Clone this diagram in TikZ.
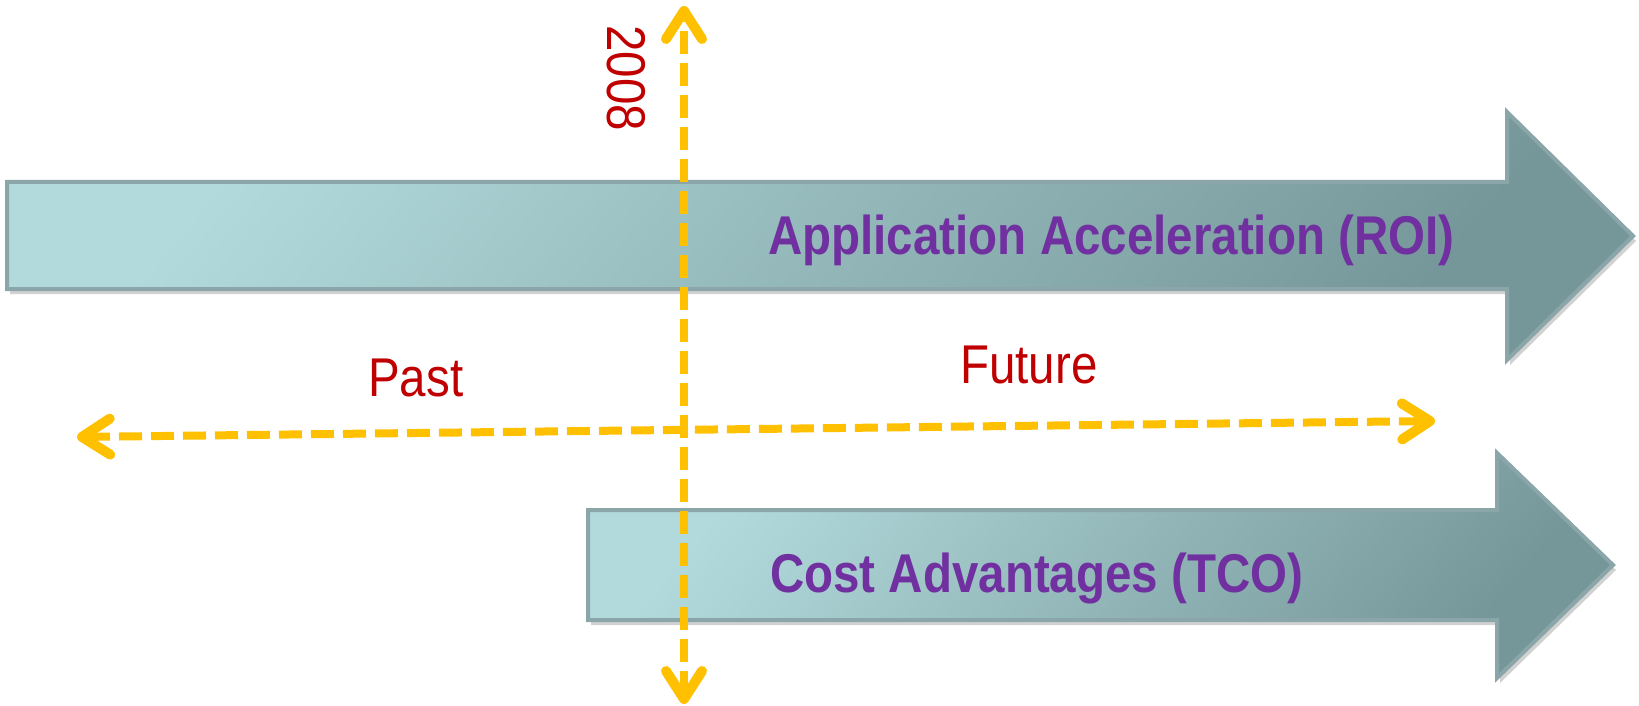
\documentclass[tikz,border=0pt]{standalone}
\usepackage{fontspec}
\setmainfont{Liberation Sans}
\usetikzlibrary{arrows.meta,shadows}
\definecolor{axisgold}{HTML}{FFC000}
\definecolor{labelred}{HTML}{C00000}
\definecolor{labelpurple}{HTML}{7030A0}
\definecolor{arrowlight}{HTML}{B2DADC}
\definecolor{arrowmid}{HTML}{A2C5C7}
\definecolor{arrowdark}{HTML}{769799}
\definecolor{arrowedge}{HTML}{8AA6A8}
\newcommand{\narrowtext}[1]{\scalebox{0.87}[1]{#1}}
\begin{document}
\begin{tikzpicture}[x=1pt,y=1pt,
  bigarrow/.style={draw=arrowedge, line width=4pt, line join=miter,
    left color=arrowlight, middle color=arrowmid, right color=arrowdark, shading angle=50,
    drop shadow={shadow xshift=3pt, shadow yshift=-5pt, opacity=0.18, fill=black}},
  axistip/.tip={Straight Barb[length=28pt, width=36pt, line width=10pt, round]},
  axisline/.style={draw=axisgold, line width=8pt, dash pattern=on 23pt off 9pt, axistip-axistip},
  bigtext/.style={inner sep=0pt, font=\fontsize{54.6}{64}\selectfont\bfseries, text=labelpurple, anchor=base west},
  redtext/.style={inner sep=0pt, font=\fontsize{54.6}{64}\selectfont, text=labelred, anchor=base west}]
\useasboundingbox (0,0) rectangle (1639,-706);
% big shaded arrows
\path[bigarrow] (7,-182) -- (1507,-182) -- (1507,-112) -- (1633,-236) -- (1507,-360) -- (1507,-289) -- (7,-289) -- cycle;
\path[bigarrow] (588,-510) -- (1497,-510) -- (1497,-453) -- (1613,-565) -- (1497,-678) -- (1497,-620) -- (588,-620) -- cycle;
% labels
\node[bigtext] (roi) at (768,-254) {\narrowtext{Application Acceleration (ROI)}};
\node[bigtext] (tco) at (770,-592) {\narrowtext{Cost Advantages (TCO)}};
\node[redtext] (past) at (368,-396) {\narrowtext{Past}};
\node[redtext] (future) at (960,-383) {\narrowtext{Future}};
\node[redtext, rotate=-90] (year) at (607,-25) {\narrowtext{2008}};
% axes
\coordinate (pastend) at (77,-437);
\coordinate (futureend) at (1435,-421);
\coordinate (topend) at (684,-6);
\coordinate (bottomend) at (684,-704);
\draw[axisline] (pastend) -- (futureend);
\draw[axisline] (bottomend) -- (topend);
\end{tikzpicture}
\end{document}
